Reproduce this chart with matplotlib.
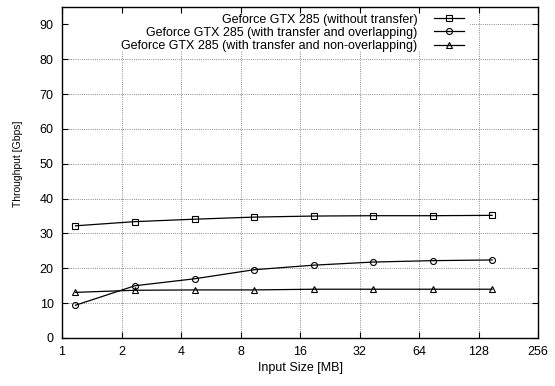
import matplotlib
matplotlib.use("Agg")
import matplotlib.pyplot as plt
from matplotlib.patches import Rectangle
from matplotlib.ticker import FixedLocator, FixedFormatter, NullLocator

plt.rcParams['font.family'] = ['Liberation Sans', 'DejaVu Sans']

sizes = [1.17, 2.34, 4.69, 9.38, 18.75, 37.5, 75, 150]
no_transfer = [32.2, 33.4, 34.1, 34.7, 35.0, 35.1, 35.1, 35.2]
overlap = [9.4, 15.0, 17.0, 19.6, 20.9, 21.8, 22.2, 22.4]
non_overlap = [13.1, 13.7, 13.8, 13.8, 14.0, 14.0, 14.0, 14.0]
labels = ["Geforce GTX 285 (without transfer)",
          "Geforce GTX 285 (with transfer and overlapping)",
          "Geforce GTX 285 (with transfer and non-overlapping)"]
xticks = [1, 2, 4, 8, 16, 32, 64, 128, 256]
yticks = [0, 10, 20, 30, 40, 50, 60, 70, 80, 90]

W, H = 555, 386
L, R, T, B = 62, 538, 7, 338
fig = plt.figure(figsize=(W/100, H/100), dpi=100)
ax = fig.add_axes([L/W, 1-B/H, (R-L)/W, (B-T)/H])
ax.set_xscale('log', base=2)
ax.set_xlim(1, 256)
ax.set_ylim(0, 95)

# dotted grid drawn below the key mask
gkw = dict(color='#666666', linestyle=(0, (1, 1.6)), lw=0.6, zorder=0.5)
for y in yticks[1:]:
    ax.axhline(y, **gkw)
for x in xticks[1:-1]:
    ax.axvline(x, **gkw)
# key area hides the grid (as gnuplot does)
ax.add_patch(Rectangle((0, (B-51)/(B-T)), (470-L)/(R-L), 1-(B-51)/(B-T),
                       transform=ax.transAxes, facecolor='white',
                       edgecolor='none', zorder=1))

mk = dict(color='black', lw=0.9, markersize=4.3, markerfacecolor='none',
          markeredgecolor='black', markeredgewidth=0.8, zorder=3)
ax.plot(sizes, no_transfer, marker='s', label=labels[0], **mk)
ax.plot(sizes, overlap, marker='o', label=labels[1], **mk)
ax.plot(sizes, non_overlap, marker='^', label=labels[2], **mk)

ax.xaxis.set_major_locator(FixedLocator(xticks))
ax.xaxis.set_major_formatter(FixedFormatter([str(t) for t in xticks]))
ax.xaxis.set_minor_locator(NullLocator())
ax.set_yticks(yticks)
ax.tick_params(direction='in', top=True, right=True, length=4, width=0.8,
               labelsize=9, pad=6)
for s in ax.spines.values():
    s.set_linewidth(1.0)
    s.set_zorder(4)

ax.set_xlabel("Input Size [MB]", fontsize=9)
ax.xaxis.set_label_coords(0.5, (B-362)/(B-T))
ax.set_ylabel("Throughput [Gbps]", fontsize=7.5)
ax.yaxis.set_label_coords((23-L)/(R-L), (B-164)/(B-T))

fs_px = 9*100/72
leg = ax.legend(loc='upper right',
                bbox_to_anchor=((466-L)/(R-L), 1-(11-T)/(B-T)),
                frameon=False, fontsize=9, markerfirst=False,
                handlelength=30/fs_px, handletextpad=16/fs_px,
                labelspacing=0.1, borderpad=0.2, borderaxespad=0)
leg.set_zorder(5)
for t in leg.get_texts():
    t.set_ha('right')
for vp in leg._legend_box.get_children()[1].get_children():
    vp.align = 'right'

fig.savefig("out.png", dpi=100)
